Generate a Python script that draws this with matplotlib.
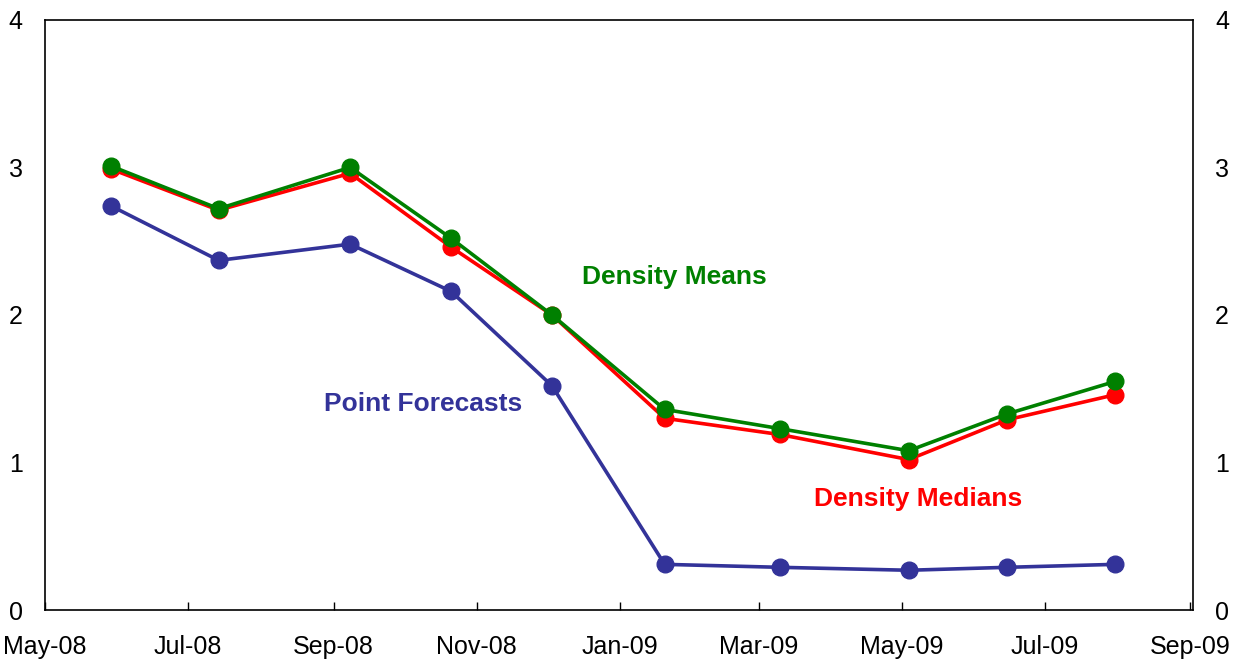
import datetime as dt
import matplotlib
matplotlib.use("Agg")
import matplotlib.pyplot as plt
import matplotlib.dates as mdates

plt.rcParams['font.family'] = ['Liberation Sans', 'DejaVu Sans']

# dates des points
dates = [dt.date(2008, 5, 29), dt.date(2008, 7, 14), dt.date(2008, 9, 8),
         dt.date(2008, 10, 21), dt.date(2008, 12, 3), dt.date(2009, 1, 20),
         dt.date(2009, 3, 10), dt.date(2009, 5, 4), dt.date(2009, 6, 15),
         dt.date(2009, 7, 31)]

point_forecasts = [2.74, 2.37, 2.48, 2.16, 1.52, 0.31, 0.29, 0.27, 0.29, 0.31]
density_means = [3.01, 2.72, 3.00, 2.52, 2.00, 1.36, 1.23, 1.08, 1.33, 1.55]
density_medians = [2.99, 2.71, 2.96, 2.46, 2.00, 1.30, 1.19, 1.02, 1.29, 1.46]

yticks = [0, 1, 2, 3, 4]

fig = plt.figure(figsize=(12.49, 6.61), dpi=100)
ax = fig.add_axes([0.036, 0.077, 0.919, 0.893])

ax.plot(dates, point_forecasts, marker='o', color='#333399', lw=2.6, ms=12)
ax.plot(dates, density_medians, marker='o', color='#FF0000', lw=2.6, ms=12)
ax.plot(dates, density_means, marker='o', color='#008000', lw=2.6, ms=12)

ax.set_xlim(dt.date(2008, 5, 1), dt.date(2009, 9, 2))
ax.set_ylim(0, 4)
ax.xaxis.set_major_locator(mdates.MonthLocator(bymonth=[1, 3, 5, 7, 9, 11]))
ax.xaxis.set_major_formatter(mdates.DateFormatter('%b-%y'))
ax.tick_params(axis='x', direction='in', length=6, width=1, labelsize=18, pad=18)

ax.set_yticks(yticks)
ax.tick_params(axis='y', length=0, labelsize=18, pad=16,
               labelright=True, right=False)

for s in ax.spines.values():
    s.set_linewidth(1.2)

ax.text(dt.date(2009, 1, 24), 2.26, 'Density Means', color='#008000',
        fontsize=19, fontweight='bold', ha='center', va='center')
ax.text(dt.date(2008, 10, 9), 1.40, 'Point Forecasts', color='#333399',
        fontsize=19, fontweight='bold', ha='center', va='center')
ax.text(dt.date(2009, 5, 8), 0.75, 'Density Medians', color='#FF0000',
        fontsize=19, fontweight='bold', ha='center', va='center')

fig.savefig('out.png', dpi=100)
